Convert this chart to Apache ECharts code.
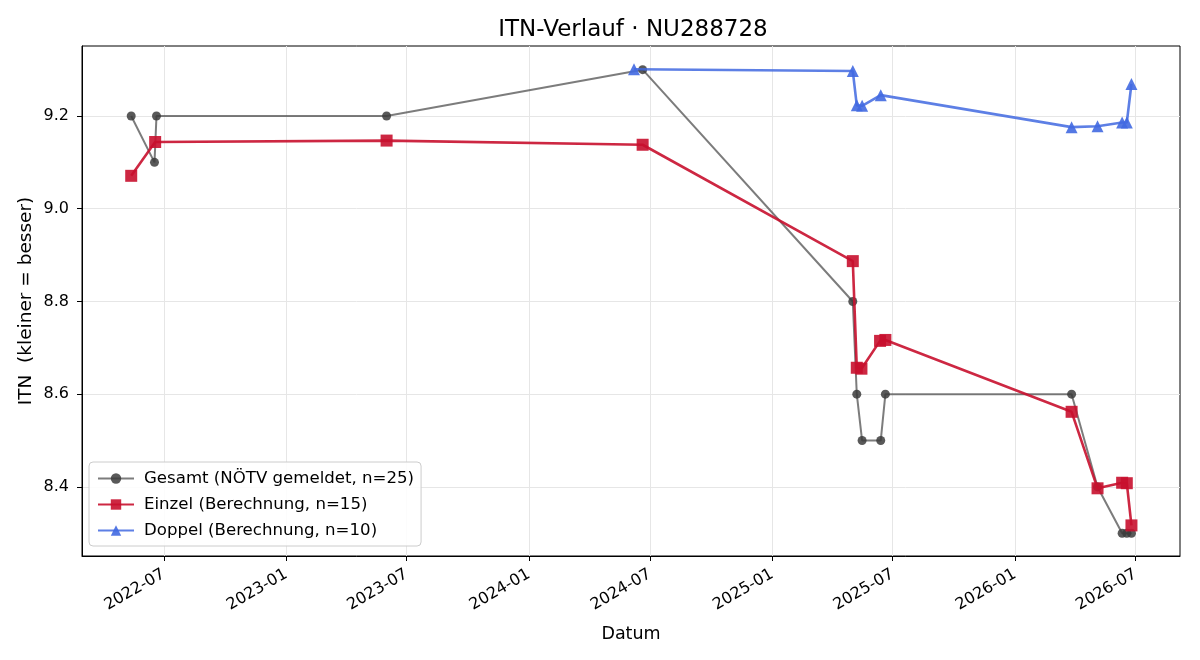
<!DOCTYPE html>
<html>
<head>
<meta charset="utf-8">
<script src="https://cdn.jsdelivr.net/npm/echarts@6/dist/echarts.min.js"></script>
<style>
  html, body { margin: 0; padding: 0; background: #fff; }
  #chart { width: 1200px; height: 660px; }
</style>
</head>
<body>
<div id="chart"></div>
<script>
// ── data ─────────────────────────────────────────────────────
const GESAMT_DATES = ['2022-05-13', '2022-06-17', '2022-06-20', '2023-06-01', '2024-06-20',
  '2025-05-02', '2025-05-08', '2025-05-16', '2025-06-13', '2025-06-20',
  '2026-03-27', '2026-05-05', '2026-06-11', '2026-06-18', '2026-06-25'];
const GESAMT_VALS = [9.2, 9.1, 9.2, 9.2, 9.3,
  8.8, 8.6, 8.5, 8.5, 8.6,
  8.6, 8.4, 8.3, 8.3, 8.3];

const EINZEL_DATES = ['2022-05-13', '2022-06-18', '2023-06-01', '2024-06-20', '2025-05-02',
  '2025-05-08', '2025-05-15', '2025-06-12', '2025-06-20', '2026-03-27',
  '2026-05-05', '2026-06-11', '2026-06-18', '2026-06-25'];
const EINZEL_VALS = [9.071, 9.144, 9.147, 9.138, 8.887,
  8.657, 8.655, 8.715, 8.717, 8.562,
  8.397, 8.409, 8.408, 8.317];

const DOPPEL_DATES = ['2024-06-07', '2025-05-02', '2025-05-08', '2025-05-16', '2025-06-13',
  '2026-03-27', '2026-05-05', '2026-06-11', '2026-06-18', '2026-06-25'];
const DOPPEL_VALS = [9.301, 9.297, 9.223, 9.222, 9.245,
  9.176, 9.178, 9.186, 9.186, 9.269];

const Y_TICKS = [8.4, 8.6, 8.8, 9.0, 9.2];
const X_TICK_MONTHS = ['2022-07', '2023-01', '2023-07', '2024-01', '2024-07',
  '2025-01', '2025-07', '2026-01', '2026-07'];

const FONT = 'DejaVu Sans';

// dates → timestamps on a plain value axis (time axis has no customValues)
const toTs = s => { const p = s.split('-').map(Number); return Date.UTC(p[0], p[1] - 1, p[2] || 1); };
const pairs = (dates, vals) => dates.map((d, i) => [toTs(d), vals[i]]);
const xTicks = X_TICK_MONTHS.map(m => toTs(m));
const fmtMonth = v => { const d = new Date(v); return d.getUTCFullYear() + '-' + String(d.getUTCMonth() + 1).padStart(2, '0'); };

const chart = echarts.init(document.getElementById('chart'), null, { renderer: 'canvas' });

chart.setOption({
  animation: false,
  backgroundColor: '#fff',
  title: {
    text: 'ITN-Verlauf · NU288728', left: 628, top: 14, textAlign: 'center',
    textStyle: { fontFamily: FONT, fontSize: 23, fontWeight: 'normal', color: '#000' },
  },
  grid: { left: 82, right: 20, top: 46, bottom: 104, show: true, borderColor: '#000', borderWidth: 1, backgroundColor: 'transparent' },
  legend: {
    orient: 'vertical', left: 89, top: 462,
    backgroundColor: 'rgba(255,255,255,0.85)', borderColor: '#cccccc', borderWidth: 1, borderRadius: 4,
    padding: [8, 7, 7, 8], itemGap: 9, itemWidth: 36, itemHeight: 13,
    textStyle: { fontFamily: FONT, fontSize: 16.6, lineHeight: 17, color: '#000', padding: [0, 0, 0, 5] },
  },
  xAxis: {
    type: 'value', min: toTs('2022-02-28'), max: toTs('2026-09-06'),
    name: 'Datum', nameLocation: 'middle', nameGap: 69, nameMoveOverlap: false,
    nameTextStyle: { fontFamily: FONT, fontSize: 17.5, color: '#000' },
    axisLine: { lineStyle: { color: '#000', width: 1 } },
    axisTick: { show: true, length: 5, lineStyle: { color: '#000' }, customValues: xTicks },
    axisLabel: {
      customValues: xTicks, rotate: 30, margin: 17, formatter: fmtMonth,
      fontFamily: FONT, fontSize: 16, color: '#000', hideOverlap: false,
    },
    splitLine: { show: true, lineStyle: { color: '#e6e6e6', width: 1 } },
  },
  yAxis: {
    type: 'value', min: 8.251, max: 9.351,
    name: 'ITN  (kleiner = besser)', nameLocation: 'middle', nameGap: 46, nameMoveOverlap: false,
    nameTextStyle: { fontFamily: FONT, fontSize: 18.5, color: '#000' },
    axisLine: { show: true, lineStyle: { color: '#000', width: 1 } },
    axisTick: { show: true, length: 5, lineStyle: { color: '#000' }, customValues: Y_TICKS },
    axisLabel: {
      customValues: Y_TICKS, margin: 13, formatter: v => v.toFixed(1),
      fontFamily: FONT, fontSize: 16, color: '#000',
    },
    splitLine: { show: true, lineStyle: { color: '#e6e6e6', width: 1 } },
  },
  series: [
    {
      name: 'Gesamt (NÖTV gemeldet, n=25)', type: 'line', z: 2,
      data: pairs(GESAMT_DATES, GESAMT_VALS),
      symbol: 'circle', symbolSize: 9, showAllSymbol: true,
      lineStyle: { color: 'rgba(68,68,68,0.7)', width: 2 },
      itemStyle: { color: 'rgba(60,60,60,0.85)' },
    },
    {
      name: 'Einzel (Berechnung, n=15)', type: 'line', z: 3,
      data: pairs(EINZEL_DATES, EINZEL_VALS),
      symbol: 'rect', symbolSize: 12, showAllSymbol: true,
      lineStyle: { color: 'rgba(200,16,46,0.9)', width: 2.6 },
      itemStyle: { color: 'rgba(200,16,46,0.9)' },
    },
    {
      name: 'Doppel (Berechnung, n=10)', type: 'line', z: 4,
      data: pairs(DOPPEL_DATES, DOPPEL_VALS),
      symbol: 'triangle', symbolSize: 12, showAllSymbol: true,
      lineStyle: { color: 'rgba(65,105,225,0.85)', width: 2.6 },
      itemStyle: { color: 'rgba(65,105,225,0.9)' },
    },
  ],
});
</script>
</body>
</html>
